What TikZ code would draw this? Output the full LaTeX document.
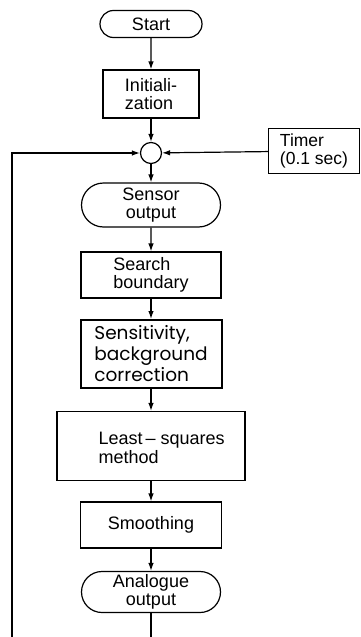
\documentclass[tikz,border=0pt]{standalone}
\usepackage{fontspec}
\setmainfont{Liberation Sans}
\newfontfamily\larges{Poppins}
\usetikzlibrary{shapes.misc,arrows.meta}
\tikzset{
  bloc/.style={draw,line width=1.2pt,align=left,inner sep=0pt},
  pilule/.style={draw,line width=1.2pt,rounded rectangle,align=center,inner sep=0pt},
  fl/.style={line width=1.2pt,-{Latex[length=8pt,width=5.5pt]}}
}
\begin{document}
\begin{tikzpicture}[x=1pt,y=-1pt,font=\fontsize{18}{18.5}\selectfont]
\useasboundingbox (0,0) rectangle (361,637);
%blocs
\node[pilule,minimum width=102,minimum height=27] (start) at (151,24) {Start};
\node[bloc,minimum width=96,minimum height=48] (init) at (151,94) {Initiali-\\zation};
\node[draw,circle,line width=1.2pt,minimum size=21,inner sep=0pt] (join) at (151,153) {};
\node[bloc,minimum width=91,minimum height=45,font=\fontsize{17.5}{18}\selectfont] (timer) at (314,151) {Timer\\(0.1 sec)};
\node[pilule,minimum width=139,minimum height=44] (sensor) at (151,205) {Sensor\\output};
\node[bloc,minimum width=140,minimum height=46] (search) at (151,275) {Search\\boundary};
\node[bloc,line width=2pt,minimum width=141,minimum height=68,font=\larges\fontsize{18.5}{21}\selectfont] (sens) at (151,354) {Sensitivity,\\background\\correction};
\node[bloc,minimum width=188,minimum height=69] (lsq) at (151,446) {};
\node[anchor=west,align=left,inner sep=0pt] (lsqtxt) at ([xshift=42pt,yshift=-2pt]lsq.west) {Least\,-- squares\\method};
\node[bloc,minimum width=141,minimum height=46] (smooth) at (151,525) {Smoothing};
\node[pilule,minimum width=139,minimum height=41] (analog) at (151,592) {Analogue\\output};
%liaisons
\draw[fl] (start) -- (init);
\draw[fl] (init) -- (join);
\draw[fl] (timer) -- (join);
\draw[fl] (join) -- (sensor);
\draw[fl] (sensor) -- (search);
\draw[fl] (search) -- (sens);
\draw[fl] (sens) -- (lsq);
\draw[fl] (lsq) -- (smooth);
\draw[fl] (smooth) -- (analog);
%boucle
\coordinate (bas) at (151,637);
\coordinate (retour) at (12,637);
\draw[line width=1.2pt] (analog) -- (bas);
\draw[fl] (retour) |- (join);
\end{tikzpicture}
\end{document}
